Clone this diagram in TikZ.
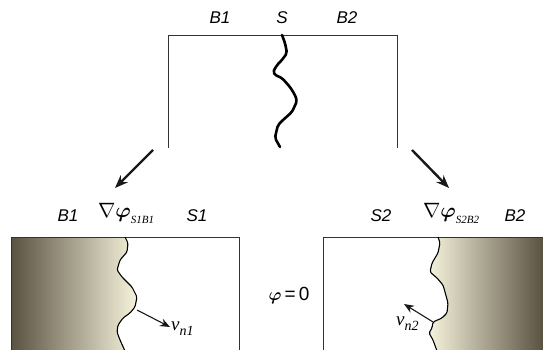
\documentclass[tikz,border=0pt]{standalone}
\usepackage{amsmath}
\usepackage{fontspec}
\setmainfont{Liberation Serif}
\newfontfamily\labelfont{Liberation Sans}
\usetikzlibrary{arrows.meta}
\definecolor{bulkdark}{HTML}{5A5241}
\definecolor{bulklight}{HTML}{F6F3DC}
\tikzset{
  phase/.style={font=\labelfont\itshape\fontsize{17}{17}\selectfont, inner sep=0pt},
  grad/.style={font=\fontsize{20}{20}\selectfont, inner sep=0pt},
  vel/.style={font=\fontsize{19}{19}\selectfont, inner sep=0pt},
  frame/.style={draw=black!80, line width=0.8pt},
  crackthick/.style={draw=black, line width=2.6pt, line join=round, line cap=round, rounded corners=2pt},
  crackthin/.style={draw=black, line width=1.1pt, line join=round, rounded corners=1.5pt},
  bigarrow/.style={draw=black!90, line width=2.4pt, -{Stealth[length=13pt,width=10pt]}},
  smallarrow/.style={draw=black!90, line width=1.1pt, -{Stealth[length=10pt,width=8pt]}},
}
\newcommand{\velo}[1]{\textit{v}\raisebox{-0.25em}{\fontsize{14}{14}\selectfont\textit{#1}}}
\newcommand{\gradphi}[1]{$\nabla\boldsymbol{\varphi}$\raisebox{-0.3em}{\fontsize{11}{11}\selectfont\textit{#1}}}
\begin{document}
\begin{tikzpicture}[x=1pt,y=-1pt]
\useasboundingbox (0,0) rectangle (543,350);

% upper frame with the original crack
\coordinate (tl) at (168,148);
\coordinate (tr) at (397,148);
\draw[frame] (tl) -- (168,35) -- (397,35) -- (tr);
\draw[crackthick] (282,35) -- (285,43) -- (287,53) -- (282,60) -- (277,65) -- (273,72) -- (275,75)
  -- (282,78) -- (290,87) -- (295,95) -- (297,101) -- (292,112) -- (283,120) -- (278,125)
  -- (276,133) -- (275,138) -- (280,147);
\node[phase] (b1top) at (220,18) {B1};
\node[phase] (stop) at (282,18) {S};
\node[phase] (b2top) at (347,18) {B2};

% splitting arrows
\coordinate (la0) at (153,150);
\coordinate (la1) at (115,188);
\coordinate (ra0) at (412,150);
\coordinate (ra1) at (449,188);
\draw[bigarrow] (la0) -- (la1);
\draw[bigarrow] (ra0) -- (ra1);

% left sub-problem
\shade[left color=bulkdark, right color=bulklight]
  (11,237) -- (125,237) -- (128,243) -- (127,252) -- (120,260) -- (117,270) -- (122,277)
  -- (132,287) -- (137,297) -- (135,307) -- (130,313) -- (123,318) -- (118,325) -- (117,332)
  -- (120,340) -- (125,351) -- (11,351) -- cycle;
\draw[frame] (11,352) -- (11,237) -- (239,237) -- (239,352);
\draw[crackthin] (125,237) -- (128,243) -- (127,252) -- (120,260) -- (117,270) -- (122,277)
  -- (132,287) -- (137,297) -- (135,307) -- (130,313) -- (123,318) -- (118,325) -- (117,332)
  -- (120,340) -- (125,351);
\coordinate (n1s) at (137,310);
\coordinate (n1e) at (170,327);
\draw[smallarrow] (n1s) -- (n1e);
\node[vel, anchor=west] (vn1) at (171,329) {\velo{n1}};
\node[phase] (b1l) at (68,216) {B1};
\node[grad, anchor=west] (gl) at (98,213) {\gradphi{S1B1}};
\node[phase] (s1l) at (197,216) {S1};

% zero field between the two sub-problems
\node[vel] (phi0) at (289,296) {$\boldsymbol{\varphi}${\labelfont\,=\,0}};

% right sub-problem
\shade[left color=bulklight, right color=bulkdark]
  (438,237) -- (543,237) -- (543,351) -- (437,351) -- (433,340) -- (429,333) -- (432,328)
  -- (433,322) -- (442,318) -- (447,313) -- (448,303) -- (445,292) -- (443,285) -- (437,278)
  -- (430,272) -- (432,263) -- (438,253) -- (440,243) -- cycle;
\draw[frame] (323,352) -- (323,237) -- (544,237);
\draw[crackthin] (438,237) -- (440,243) -- (438,253) -- (432,263) -- (430,272) -- (437,278)
  -- (443,285) -- (445,292) -- (448,303) -- (447,313) -- (442,318) -- (433,322) -- (432,328)
  -- (429,333) -- (433,340) -- (437,351);
\coordinate (n2s) at (433,322);
\coordinate (n2e) at (404,304);
\draw[smallarrow] (n2s) -- (n2e);
\node[vel, anchor=west] (vn2) at (396,324) {\velo{n2}};
\node[phase] (s2r) at (381,216) {S2};
\node[grad, anchor=west] (gr) at (423,213) {\gradphi{S2B2}};
\node[phase] (b2r) at (515,216) {B2};
\end{tikzpicture}
\end{document}
